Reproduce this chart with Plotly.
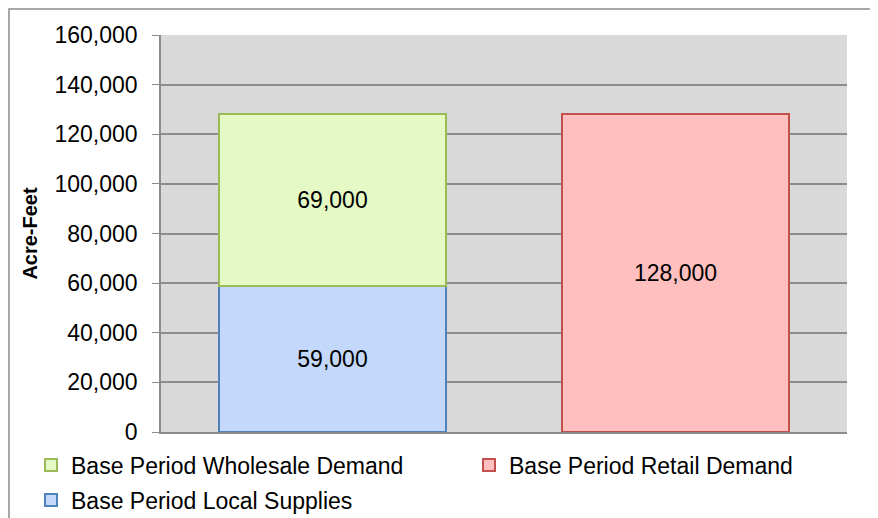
import plotly.graph_objects as go

# ---------------- data ----------------
categories = ['Supply', 'Demand']
local_supplies = [59000, None]
wholesale_demand = [69000, None]
retail_demand = [None, 128000]

# the page body adds an 8px margin, so the figure is laid out 8px in
OFF = 8
W, H = 878 - OFF, 518 - OFF
L, R, T, B = 161 - OFF, 31, 35 - OFF, 86
pw, ph = W - L - R, H - T - B


def px_x(p):
    return (p - OFF - L) / pw


def px_y(p):
    return (H - B - (p - OFF)) / ph


font = 'Liberation Sans'
fs = 23
label_font = dict(family=font, size=fs, color='black')

fig = go.Figure()

fig.add_trace(go.Bar(
    x=categories, y=local_supplies, name='Base Period Local Supplies',
    marker=dict(color='#c4d8fc', line=dict(color='#4f81bd', width=2)),
    text=['59,000', ''], textposition='inside', insidetextanchor='middle',
    textfont=label_font, legend='legend3',
))
fig.add_trace(go.Bar(
    x=categories, y=wholesale_demand, name='Base Period Wholesale Demand',
    marker=dict(color='#e5f9c4', line=dict(color='#9bbb59', width=2)),
    text=['69,000', ''], textposition='inside', insidetextanchor='middle',
    textfont=label_font, legend='legend',
))
fig.add_trace(go.Bar(
    x=categories, y=retail_demand, name='Base Period Retail Demand',
    marker=dict(color='#ffbfbf', line=dict(color='#c0504d', width=2)),
    text=['', '128,000'], textposition='inside', insidetextanchor='middle',
    textfont=label_font, legend='legend2',
))

# outer chart border (left and top visible)
fig.add_shape(type='rect', xref='paper', yref='paper',
              x0=px_x(9), x1=px_x(900), y0=px_y(540), y1=px_y(9),
              line=dict(color='#8c8c8c', width=1.5), layer='below')


def legend_at(x, y):
    return dict(x=px_x(x), xanchor='left', y=px_y(y), yanchor='middle',
                orientation='h', itemwidth=30, font=dict(family=font, size=fs),
                bgcolor='rgba(0,0,0,0)')


fig.update_layout(
    width=W, height=H,
    margin=dict(l=L, r=R, t=T, b=B, autoexpand=False),
    barmode='stack', bargap=0.34,
    paper_bgcolor='white', plot_bgcolor='#d9d9d9',
    font=dict(family=font, size=fs, color='black'),
    showlegend=True,
    legend=legend_at(31, 465),
    legend2=legend_at(469, 465),
    legend3=legend_at(31, 500),
    xaxis=dict(showticklabels=False, showgrid=False, ticks='',
               showline=True, linecolor='#8c8c8c', linewidth=1.5),
    yaxis=dict(range=[0, 160000], dtick=20000, tickformat=',d',
               showgrid=True, gridcolor='#8c8c8c', gridwidth=1.5,
               showline=True, linecolor='#8c8c8c', linewidth=1.5,
               ticks='outside', ticklen=7, tickcolor='#8c8c8c',
               ticklabelstandoff=10,
               tickfont=dict(family=font, size=fs),
               title=dict(text='<b>Acre-Feet</b>', standoff=12,
                          font=dict(family=font, size=20)),
               zeroline=False),
)

fig.write_html('out.html')
